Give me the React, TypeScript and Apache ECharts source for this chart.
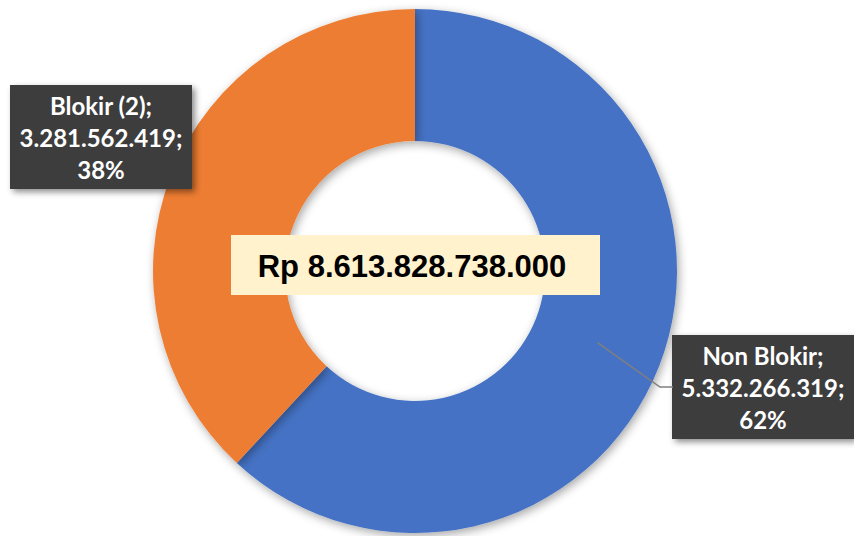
import React, { useEffect, useRef } from "react";
import * as echarts from "echarts";

const categories = ["Non Blokir", "Blokir (2)"];
const values = [5332266319, 3281562419];
const colors = ["#4472C4", "#ED7D31"];
const totalMultiplier = 1000;
const currencyPrefix = "Rp ";

const fmt = (n: number) => String(Math.round(n)).replace(/\B(?=(\d{3})+(?!\d))/g, ".");

const CX = 415;
const CY = 271;
const R_IN = 130;
const R_OUT = 262;

export default function App() {
  const ref = useRef<HTMLDivElement>(null);
  useEffect(() => {
    document.body.style.margin = "0";
    const chart = echarts.init(ref.current!, null, { renderer: "svg" });
    const total = values.reduce((a, b) => a + b, 0);
    const labelPos = [
      { x: 763, y: 387 },
      { x: 101, y: 137 },
    ];
    // leader line for first slice: from mid-ring at its mid angle to the label box
    const midDeg = 90 - (360 * values[0]) / total / 2;
    const midR = (R_IN + R_OUT) / 2;
    const sx = CX + midR * Math.cos((midDeg * Math.PI) / 180);
    const sy = CY - midR * Math.sin((midDeg * Math.PI) / 180);
    const boxLeft = 673;
    chart.setOption({
      animation: false,
      backgroundColor: "#ffffff",
      series: [
        {
          type: "pie",
          center: [CX, CY],
          radius: [R_IN, R_OUT],
          startAngle: 90,
          clockwise: true,
          avoidLabelOverlap: false,
          itemStyle: {
            shadowBlur: 10,
            shadowColor: "rgba(0,0,0,0.35)",
            shadowOffsetX: 2,
            shadowOffsetY: 3,
          },
          label: {
            show: true,
            position: "outside",
            formatter: (p: any) =>
              `${p.name};\n${fmt(p.value)};\n${Math.round(p.percent)}%`,
            color: "#ffffff",
            fontFamily: "Lato",
            fontWeight: "bold",
            fontSize: 24,
            lineHeight: 32,
            align: "center",
            width: 170,
            backgroundColor: "#3d3d3d",
            padding: [4, 6, 4, 6],
            shadowBlur: 6,
            shadowColor: "rgba(0,0,0,0.45)",
            shadowOffsetX: 3,
            shadowOffsetY: 3,
          },
          labelLine: { show: false },
          labelLayout: (params: any) => {
            const pos = labelPos[params.dataIndex];
            return {
              x: pos.x,
              y: pos.y,
              align: "center",
              verticalAlign: "middle",
            };
          },
          data: categories.map((name, i) => ({
            name,
            value: values[i],
            itemStyle: { color: colors[i] },
          })),
        },
      ],
      graphic: [
        {
          type: "polyline",
          z: 50,
          shape: {
            points: [
              [sx, sy],
              [boxLeft - 13, labelPos[0].y],
              [boxLeft, labelPos[0].y],
            ],
          },
          style: { stroke: "#7f7f7f", lineWidth: 1.5, fill: null },
        },
        {
          type: "rect",
          z: 100,
          shape: { x: 231, y: 235, width: 369, height: 60 },
          style: { fill: "#FFF2CC" },
        },
        {
          type: "text",
          z: 101,
          x: 412,
          y: 266,
          style: {
            text: currencyPrefix + fmt(total * totalMultiplier),
            fill: "#000000",
            font: "bold 31px 'Liberation Sans', Arial, sans-serif",
            align: "center",
            verticalAlign: "middle",
          },
        },
      ],
    });
    return () => chart.dispose();
  }, []);
  return <div ref={ref} style={{ width: 854, height: 536 }} />;
}
